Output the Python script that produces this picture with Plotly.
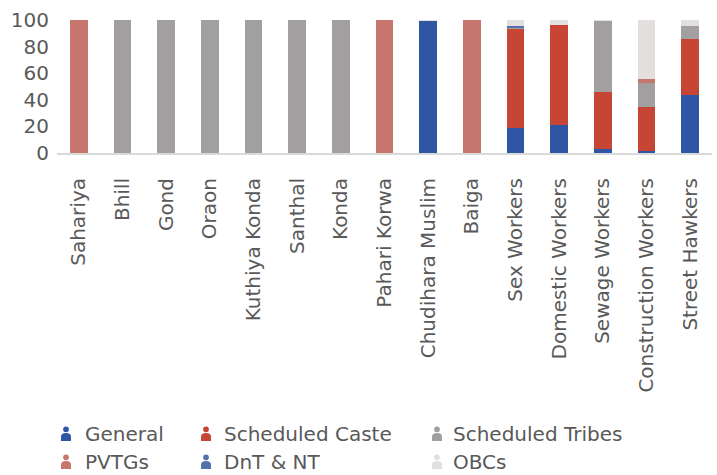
import plotly.graph_objects as go

categories = ["Sahariya", "Bhill", "Gond", "Oraon", "Kuthiya Konda", "Santhal", "Konda",
              "Pahari Korwa", "Chudihara Muslim", "Baiga", "Sex Workers", "Domestic Workers",
              "Sewage Workers", "Construction Workers", "Street Hawkers"]
general = [0, 0, 0, 0, 0, 0, 0, 0, 99, 0, 19, 21, 3, 1.5, 43.5]
scheduled_caste = [0, 0, 0, 0, 0, 0, 0, 0, 0, 0, 74.5, 75.5, 43, 33, 42]
scheduled_tribes = [0, 100, 100, 100, 100, 100, 100, 0, 0, 0, 0.5, 0, 53, 18, 10]
pvtgs = [100, 0, 0, 0, 0, 0, 0, 100, 0, 100, 0, 0, 0, 3.5, 0]
dnt_nt = [0, 0, 0, 0, 0, 0, 0, 0, 0, 0, 1.5, 0, 0, 0, 0]
obcs = [0, 0, 0, 0, 0, 0, 0, 0, 1, 0, 4.5, 3.5, 1, 44, 4.5]
y_ticks = [0, 20, 40, 60, 80, 100]

series = [
    ("General", general, "#2F55A5"),
    ("Scheduled Caste", scheduled_caste, "#C64534"),
    ("Scheduled Tribes", scheduled_tribes, "#A19F9F"),
    ("PVTGs", pvtgs, "#C6766C"),
    ("DnT & NT", dnt_nt, "#5571AC"),
    ("OBCs", obcs, "#E4DFDF"),
]

FONT = "DejaVu Sans"
TXT = "#595959"
W, H = 717, 475
L, R, T = 57, 5, 20
PLOT_BOTTOM = 153
B = H - PLOT_BOTTOM

fig = go.Figure()
for name, vals, col in series:
    fig.add_trace(go.Bar(x=categories, y=vals, name=name, marker_color=col,
                         marker_line_width=0, showlegend=False, hoverinfo="skip"))

fig.update_layout(
    width=W, height=H, barmode="stack", bargap=0.59, hovermode=False,
    margin=dict(l=L, r=R, t=T, b=B, pad=0),
    plot_bgcolor="white", paper_bgcolor="white",
    font=dict(family=FONT, color=TXT, size=20),
)
fig.update_xaxes(showline=True, linecolor="#D9D9D9", linewidth=2, showgrid=False,
                 tickangle=-90, tickfont=dict(size=20, color=TXT), ticklabelstandoff=15)
fig.update_yaxes(range=[0, 100], tickvals=y_ticks, showgrid=False, zeroline=False,
                 showline=False, tickfont=dict(size=20, color=TXT), ticklabelstandoff=7)

pw, ph = W - L - R, H - T - B

def px(x):
    return (x - L) / pw

def py(y):
    return (PLOT_BOTTOM - y) / ph

# legend layout in pixels: (series idx, icon centre x, text x, row centre y)
legend_items = [
    (0, 66, 83, 434), (1, 206, 222, 434), (2, 437, 451, 434),
    (3, 66, 83, 462), (4, 206, 222, 462), (5, 437, 451, 462),
]
for idx, cx, tx, cy in legend_items:
    name, _, col = series[idx]
    # head
    fig.add_shape(type="circle", xref="paper", yref="paper",
                  x0=px(cx - 2.9), x1=px(cx + 2.9), y0=py(cy - 1.8), y1=py(cy - 7.6),
                  fillcolor=col, line_width=0)
    # body
    x0, x1 = px(cx - 5), px(cx + 5)
    yb, ym, yt = py(cy + 7), py(cy + 2.5), py(cy - 1)
    xc = px(cx)
    path = (f"M {x0},{yb} L {x0},{ym} Q {x0},{yt} {xc},{yt} "
            f"Q {x1},{yt} {x1},{ym} L {x1},{yb} Z")
    fig.add_shape(type="path", xref="paper", yref="paper", path=path,
                  fillcolor=col, line_width=0)
    fig.add_annotation(x=px(tx), y=py(cy), xref="paper", yref="paper", text=name,
                       showarrow=False, xanchor="left", yanchor="middle",
                       font=dict(family=FONT, size=20, color=TXT))

fig.write_html("out.html",
               config={"displayModeBar": False, "staticPlot": True},
               post_script="document.body.style.margin='0';document.body.style.overflow='hidden';")
